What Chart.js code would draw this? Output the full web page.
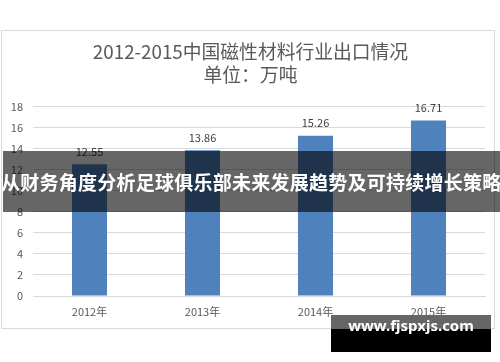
<!DOCTYPE html>
<html>
<head>
<meta charset="utf-8">
<script src="https://cdn.jsdelivr.net/npm/chart.js@4"></script>
<style>
    body { margin: 0; background: #fff; width: 500px; height: 362px; overflow: hidden; position: relative; }
    #box { position: absolute; left: 1px; top: 30px; width: 492px; height: 297px; border: 1px solid #d9d9d9; }
    #banner {
        position: absolute; left: 3px; top: 151px; width: 497px; height: 61px;
        background: rgba(0, 0, 0, 0.6); color: #fff;
        font: bold 19px "Noto Sans CJK SC", sans-serif;
        line-height: 61px; white-space: nowrap; text-indent: -2px; letter-spacing: 0.25px;
    }
    #mark { position: absolute; left: 331px; top: 315px; width: 160px; height: 37px; background: #000; }
    #mark .top { position: absolute; left: 0; top: 0; width: 160px; height: 14px; background: #666; }
    #mark .txt {
        position: absolute; left: 0; top: 0; width: 160px; height: 44px; line-height: 44px;
        text-align: center; color: #fff; font: bold 15px "Noto Sans", sans-serif;
    }
</style>
</head>
<body>
<div id="box"><canvas id="myChart" width="492" height="297"></canvas></div>
<div id="banner">从财务角度分析足球俱乐部未来发展趋势及可持续增长策略</div>
<div id="mark"><div class="top"></div><div class="txt">www.fjspxjs.com</div></div>

<script>
// chart data
const years = ["2012年", "2013年", "2014年", "2015年"];
const exportVolume = [12.55, 13.86, 15.26, 16.71];
const titleLines = ["2012-2015中国磁性材料行业出口情况", "单位：万吨"];

const fontName = '"Noto Sans CJK SC", sans-serif';

// value labels above each bar
const barLabels = {
    id: 'barLabels',
    afterLayout(chart) {
        // title sits a little right of the canvas centre in the original
        if (chart.titleBlock) chart.titleBlock.left += 14;
    },
    afterDatasetsDraw(chart) {
        const ctx = chart.ctx;
        const meta = chart.getDatasetMeta(0);
        ctx.save();
        ctx.font = '11px ' + fontName;
        ctx.fillStyle = '#404040';
        ctx.textAlign = 'center';
        ctx.textBaseline = 'bottom';
        meta.data.forEach((bar, i) => {
            ctx.fillText(exportVolume[i].toFixed(2), bar.x, bar.y - 7);
        });
        ctx.restore();
    }
};

const ctx = document.getElementById("myChart").getContext("2d");
const chart = new Chart(ctx, {
    type: 'bar',
    data: {
        labels: years,
        datasets: [{
            data: exportVolume,
            backgroundColor: '#4f81bd',
            categoryPercentage: 1,
            barPercentage: 0.31
        }]
    },
    options: {
        responsive: false,
        animation: false,
        layout: { padding: { left: 0, right: 9, top: 0, bottom: 0 } },
        plugins: {
            legend: { display: false },
            tooltip: { enabled: false },
            title: {
                display: true,
                text: titleLines,
                color: '#595959',
                font: { family: fontName, size: 18.8, weight: 'normal', lineHeight: 1.22 },
                padding: { top: 9, bottom: 21 }
            }
        },
        scales: {
            y: {
                min: 0,
                max: 18,
                ticks: { stepSize: 2, color: '#595959', padding: 10, font: { family: fontName, size: 11 } },
                grid: { color: '#d9d9d9', drawTicks: false },
                border: { display: false },
                afterFit(scale) { scale.width = 31; }
            },
            x: {
                ticks: { color: '#595959', padding: 9, font: { family: fontName, size: 11 } },
                grid: { display: false, drawTicks: false },
                border: { color: '#d9d9d9' },
                afterFit(scale) { scale.height = 32; }
            }
        }
    },
    plugins: [barLabels]
});
</script>
</body>
</html>
